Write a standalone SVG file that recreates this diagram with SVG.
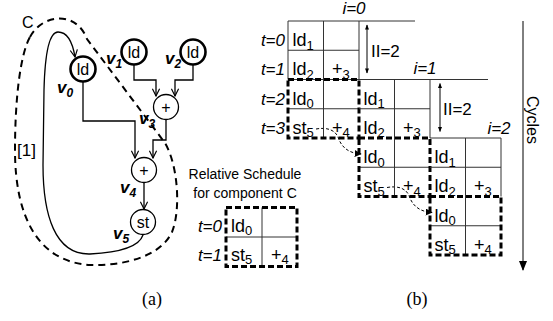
<svg xmlns="http://www.w3.org/2000/svg" width="553" height="321" viewBox="0 0 553 321">
<defs>
<style>
text{font-family:"Liberation Sans",Arial,sans-serif;fill:#000}
.cell{font-size:18px}
.sub{font-size:13px}
.tl{font-size:17px;font-style:italic;text-anchor:end}
.il{font-size:17px;font-style:italic;text-anchor:middle}
.vl{font-size:17px;font-style:italic;font-weight:bold}
.vs{font-size:12px;font-style:italic;font-weight:bold}
.nt{font-size:16px;text-anchor:middle}
.cap{font-family:"Liberation Serif","Times New Roman",serif;font-size:18px;text-anchor:middle}
.grid{stroke:#333;stroke-width:1;fill:none}
.dbox{stroke:#000;stroke-width:3;stroke-dasharray:6 3;fill:none}
.edge{stroke:#000;stroke-width:1.3;fill:none}
.thin{stroke:#000;stroke-width:1;fill:none}
.dcurve{stroke:#000;stroke-width:1;stroke-dasharray:3 2;fill:none}
.nodeB{stroke:#000;stroke-width:2.6;fill:#fff}
.node{stroke:#000;stroke-width:1.3;fill:#fff}
</style>
<marker id="open" viewBox="0 0 10 10" refX="9" refY="5" markerWidth="9" markerHeight="9" markerUnits="userSpaceOnUse" orient="auto">
<path d="M1,1 L9,5 L1,9" stroke="#000" stroke-width="1.3" fill="none"/>
</marker>
<marker id="tri" viewBox="0 0 10 10" refX="9" refY="5" markerWidth="7" markerHeight="7" markerUnits="userSpaceOnUse" orient="auto">
<path d="M0,0 L10,5 L0,10 Z" fill="#000"/>
</marker>
<marker id="triS" viewBox="0 0 10 10" refX="9" refY="5" markerWidth="6" markerHeight="5" markerUnits="userSpaceOnUse" orient="auto-start-reverse">
<path d="M0,1 L10,5 L0,9 Z" fill="#000"/>
</marker>
<marker id="triB" viewBox="0 0 10 10" refX="9" refY="5" markerWidth="10" markerHeight="10" markerUnits="userSpaceOnUse" orient="auto">
<path d="M0,1 L10,5 L0,9 Z" fill="#000"/>
</marker>
</defs>

<!-- component C outline -->
<g id="componentC">
<path d="M30,37 C42,14 76,10 87,39 L165,143 C178,165 181,210 172,232 C160,258 120,266 90,265 C40,262 15,220 15,150 C15,100 20,55 30,37 Z" stroke="#000" stroke-width="2" stroke-dasharray="7 5" fill="none"/>
<text x="22" y="28" font-size="16">C</text>
</g>

<!-- connectors -->
<g id="connectors">
<path class="edge" d="M134,65 V80 H156 V96" marker-end="url(#open)"/>
<path class="edge" d="M193,65 V80 H175 V96" marker-end="url(#open)"/>
<path class="edge" d="M83,82 V121 H135 V158" marker-end="url(#open)"/>
<path class="edge" d="M166,120 V140 H153 V158" marker-end="url(#open)"/>
<path class="edge" d="M144,183 V209" marker-end="url(#open)"/>
<path class="edge" d="M143,235 C138,250 110,253 90,254 C55,255 43,215 43,165 L44,90 C45,50 50,32 58,32 C68,32 73,45 75,57" marker-end="url(#open)"/>
<text x="17" y="156" font-size="17">[1]</text>
<!-- dashed dependence arrows in schedule -->
<path class="dcurve" d="M316,129 C327,127 335,130 338,137 C341,146 347,153 361,154" marker-end="url(#tri)"/>
<path class="dcurve" d="M387,187.5 C398,185.5 406,188.5 409,195.5 C412,204.5 418,211.5 432,212.5" marker-end="url(#tri)"/>
</g>

<!-- graph nodes -->
<g id="v0"><circle class="nodeB" cx="83" cy="69" r="12.5"/><text class="nt" x="83" y="75">ld</text>
<text class="vl" x="57" y="93">v<tspan class="vs" dy="4">0</tspan></text></g>
<g id="v1"><circle class="nodeB" cx="134" cy="52" r="12.5"/><text class="nt" x="134" y="58">ld</text>
<text class="vl" x="106" y="64">v<tspan class="vs" dy="4">1</tspan></text></g>
<g id="v2"><circle class="nodeB" cx="193" cy="52" r="12.5"/><text class="nt" x="193" y="58">ld</text>
<text class="vl" x="165" y="64">v<tspan class="vs" dy="4">2</tspan></text></g>
<g id="v3"><circle class="node" cx="166" cy="107" r="12.5"/><text class="nt" x="166" y="113" font-size="17">+</text>
<text class="vl" x="139" y="124">v<tspan class="vs" dy="4">3</tspan></text></g>
<g id="v4"><circle class="node" cx="144" cy="170" r="12.5"/><text class="nt" x="144" y="176" font-size="17">+</text>
<text class="vl" x="120" y="193">v<tspan class="vs" dy="4">4</tspan></text></g>
<g id="v5"><circle class="node" cx="143" cy="222" r="12.5"/><text class="nt" x="143" y="228">st</text>
<text class="vl" x="113" y="239">v<tspan class="vs" dy="4">5</tspan></text></g>

<!-- relative schedule for C -->
<g id="relative-schedule">
<text x="245" y="179" font-size="14" text-anchor="middle">Relative Schedule</text>
<text x="245" y="198" font-size="14" text-anchor="middle">for component C</text>
<path class="grid" d="M226,237 H297 M262,207.5 V266.5"/>
<rect class="dbox" x="226" y="207.5" width="71" height="59"/>
<text class="tl" x="222" y="231.5">t=0</text>
<text class="tl" x="222" y="260.5">t=1</text>
<text class="cell" x="231" y="231.5">ld<tspan class="sub" dy="3.5">0</tspan></text>
<text class="cell" x="231" y="260.5">st<tspan class="sub" dy="3.5">5</tspan></text>
<text class="cell" x="271" y="260.5">+<tspan class="sub" dy="3.5">4</tspan></text>
</g>

<!-- iteration i=0 -->
<g id="iter0">
<text class="il" x="354" y="14">i=0</text>
<path class="grid" d="M288,21 H415 M288,21 V79.5 M359,21 V79.5 M288,50.25 H359 M288,79.5 H359 M323.5,21 V138 M288,108.75 H359"/>
<rect class="dbox" x="288" y="79.5" width="71" height="58.5"/>
<path class="thin" d="M367,25 V73" marker-start="url(#triS)" marker-end="url(#triS)"/>
<text x="371" y="56.5" font-size="17">II=2</text>
<text class="cell" x="292.5" y="46">ld<tspan class="sub" dy="3.5">1</tspan></text>
<text class="cell" x="292.5" y="75.25">ld<tspan class="sub" dy="3.5">2</tspan></text>
<text class="cell" x="332" y="75.25">+<tspan class="sub" dy="3.5">3</tspan></text>
<text class="cell" x="292.5" y="104.5">ld<tspan class="sub" dy="3.5">0</tspan></text>
<text class="cell" x="292.5" y="133.75">st<tspan class="sub" dy="3.5">5</tspan></text>
<text class="cell" x="332" y="133.75">+<tspan class="sub" dy="3.5">4</tspan></text>
</g>

<!-- iteration i=1 -->
<g id="iter1">
<text class="il" x="425" y="74">i=1</text>
<path class="grid" d="M359,79.5 H488 M430,79.5 V138 M359,108.75 H430 M394.5,79.5 V196.5 M359,167.25 H430"/>
<rect class="dbox" x="359" y="138" width="71" height="58.5"/>
<path class="thin" d="M440,83.5 V131.5" marker-start="url(#triS)" marker-end="url(#triS)"/>
<text x="443" y="115" font-size="17">II=2</text>
<text class="cell" x="363.5" y="104.5">ld<tspan class="sub" dy="3.5">1</tspan></text>
<text class="cell" x="363.5" y="133.75">ld<tspan class="sub" dy="3.5">2</tspan></text>
<text class="cell" x="403" y="133.75">+<tspan class="sub" dy="3.5">3</tspan></text>
<text class="cell" x="363.5" y="163">ld<tspan class="sub" dy="3.5">0</tspan></text>
<text class="cell" x="363.5" y="192.25">st<tspan class="sub" dy="3.5">5</tspan></text>
<text class="cell" x="403" y="192.25">+<tspan class="sub" dy="3.5">4</tspan></text>
</g>

<!-- iteration i=2 -->
<g id="iter2">
<text class="il" x="499" y="134">i=2</text>
<path class="grid" d="M430,138 H501 M501,138 V196.5 M430,167.25 H501 M465.5,138 V255 M430,225.75 H501"/>
<rect class="dbox" x="430" y="196.5" width="71" height="58.5"/>
<text class="cell" x="434.5" y="163">ld<tspan class="sub" dy="3.5">1</tspan></text>
<text class="cell" x="434.5" y="192.25">ld<tspan class="sub" dy="3.5">2</tspan></text>
<text class="cell" x="474" y="192.25">+<tspan class="sub" dy="3.5">3</tspan></text>
<text class="cell" x="434.5" y="221.5">ld<tspan class="sub" dy="3.5">0</tspan></text>
<text class="cell" x="434.5" y="250.75">st<tspan class="sub" dy="3.5">5</tspan></text>
<text class="cell" x="474" y="250.75">+<tspan class="sub" dy="3.5">4</tspan></text>
</g>

<!-- row labels -->
<g id="time-labels">
<text class="tl" x="285" y="46">t=0</text>
<text class="tl" x="285" y="75.25">t=1</text>
<text class="tl" x="285" y="104.5">t=2</text>
<text class="tl" x="285" y="133.75">t=3</text>
</g>

<!-- cycles axis -->
<g id="cycles">
<path class="thin" d="M523,21 V270" marker-end="url(#triB)"/>
<text x="0" y="0" font-size="16" text-anchor="middle" transform="translate(527,120) rotate(90)">Cycles</text>
</g>

<text class="cap" x="152" y="305">(a)</text>
<text class="cap" x="417" y="305">(b)</text>
</svg>
